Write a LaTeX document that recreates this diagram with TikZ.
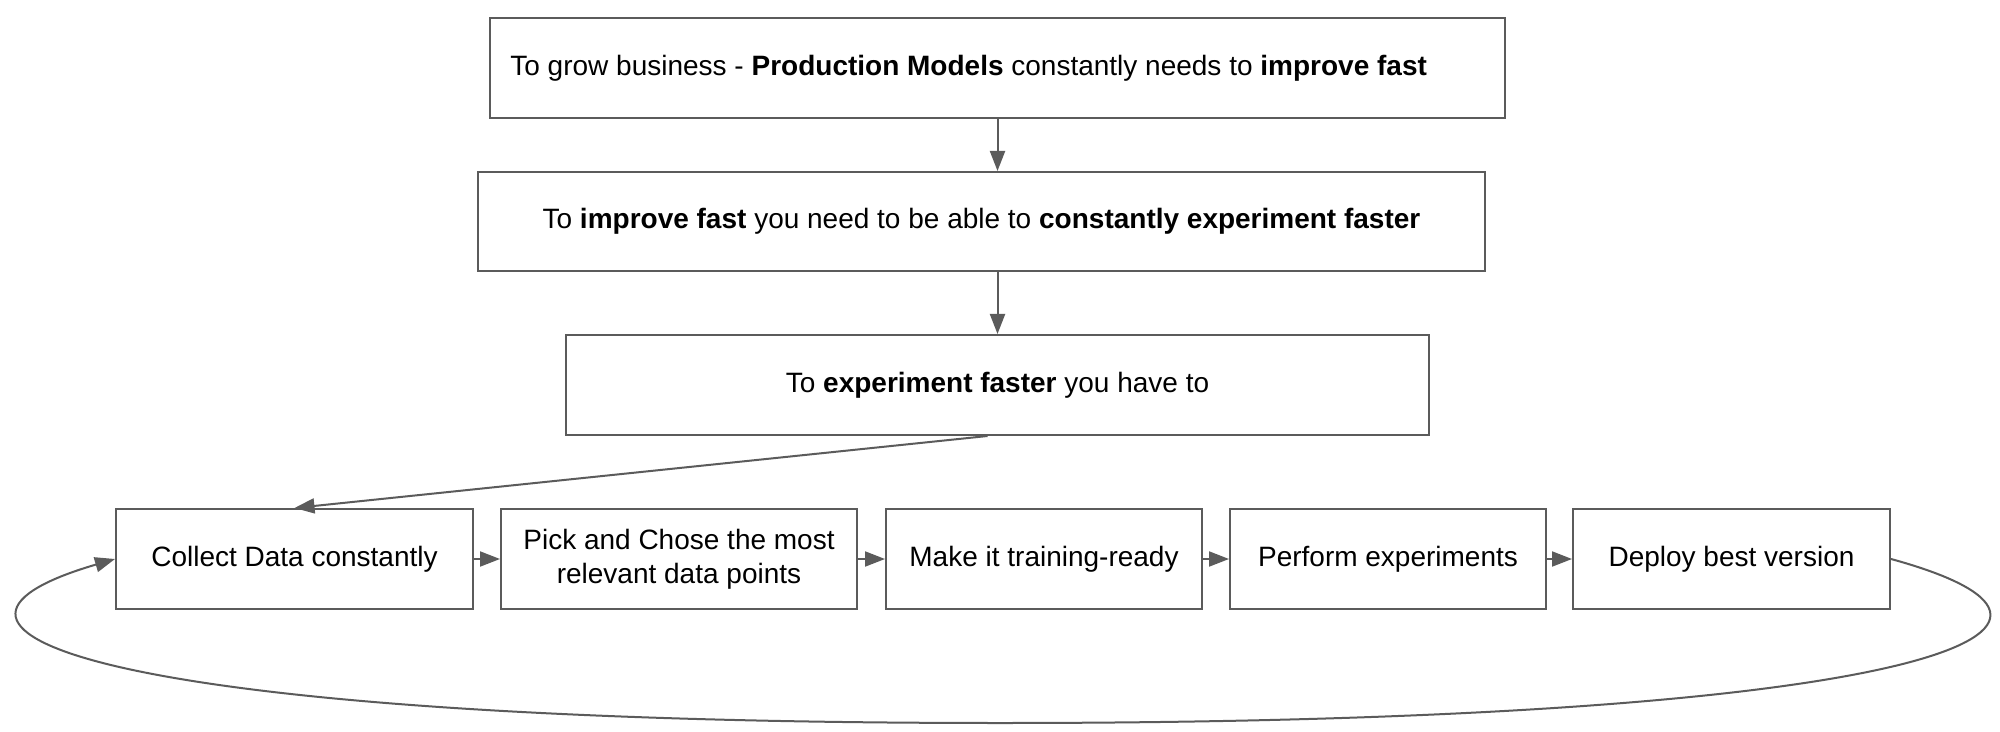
\documentclass[tikz,border=0pt]{standalone}
\usepackage{fontspec}
\setmainfont{Liberation Sans}
\usetikzlibrary{arrows.meta}
\definecolor{edgegray}{HTML}{5B5B5B}
\begin{document}
\begin{tikzpicture}[x=0.5pt,y=-0.5pt,
  every node/.style={font=\fontsize{14pt}{17pt}\selectfont, text=black},
  box/.style={draw=edgegray, line width=1pt, rectangle, inner sep=0pt, minimum height=50pt},
  conn/.style={draw=edgegray, line width=1pt, -{Triangle[length=10pt,width=7.5pt]}},
  btxt/.style={inner sep=0pt}]
\useasboundingbox[fill=white] (0,0) rectangle (2000,732);
\node[box, minimum width=507.5pt] (t1) at (997.5,68) {};
\node[btxt, anchor=west] (t1txt) at (510,68) {To grow business - \textbf{Production Models} constantly needs to \textbf{improve fast}};
\node[box, minimum width=503.5pt, minimum height=49.5pt] (t2) at (981.5,221.5) {To \textbf{improve fast} you need to be able to \textbf{constantly experiment faster}};
\node[box, minimum width=431.5pt] (t3) at (997.5,385) {To \textbf{experiment faster} you have to};
\node[box, minimum width=178.5pt] (s1) at (294.5,559) {Collect Data constantly};
\node[box, minimum width=178pt, align=center] (s2) at (679,559) {Pick and Chose the most\\relevant data points};
\node[box, minimum width=158pt] (s3) at (1044,559) {Make it training-ready};
\node[box, minimum width=158pt] (s4) at (1388,559) {Perform experiments};
\node[box, minimum width=158.5pt] (s5) at (1731.5,559) {Deploy best version};
\draw[conn] (t1.south) -- (t1.south |- t2.north);
\draw[conn] (t3.north |- t2.south) -- (t3.north);
\draw[conn] ([xshift=-5pt]t3.south) -- (s1.north);
\draw[conn] (s1.east) -- (s2.west);
\draw[conn] (s2.east) -- (s3.west);
\draw[conn] (s3.east) -- (s4.west);
\draw[conn] (s4.east) -- (s5.west);
\coordinate (loopbottom) at (1000,723);
\draw[conn] (s5.east) .. controls (2150,630) and (1920,723) .. (loopbottom)
  .. controls (96,723) and (-128,630) .. (s1.west);
\end{tikzpicture}
\end{document}
